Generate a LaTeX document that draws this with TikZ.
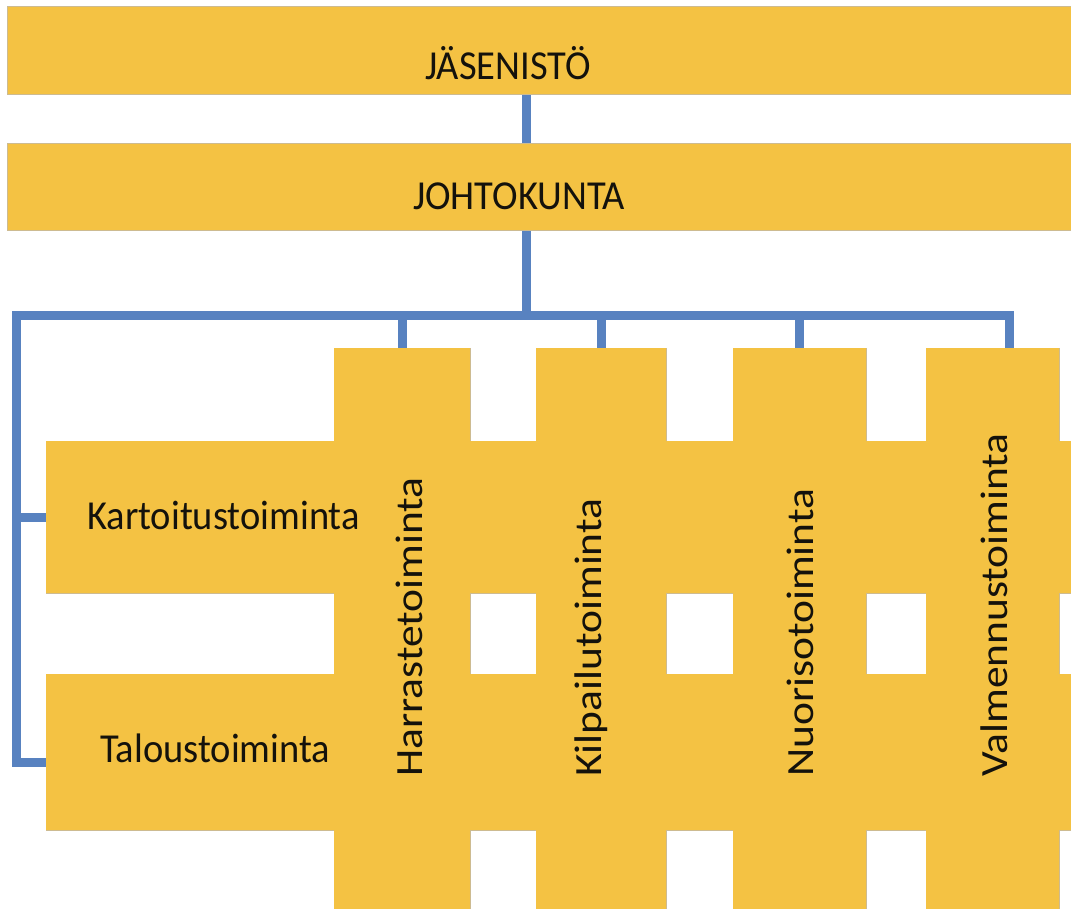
\documentclass[tikz,border=0pt]{standalone}
\usepackage{fontspec}
\setmainfont{Carlito}
\usepackage{graphicx}
\definecolor{yel}{RGB}{244,194,67}
\definecolor{yedge}{RGB}{205,187,145}
\definecolor{connc}{RGB}{88,130,192}
\definecolor{txt}{RGB}{20,18,12}
\begin{document}
\begin{tikzpicture}[x=1pt,y=-1pt,
  blk/.style={draw=yedge, line width=1pt, fill=yel, rectangle, inner sep=0pt, outer sep=0pt, anchor=north west},
  link/.style={draw=connc, line width=9pt, line cap=rect},
  lab/.style={inner sep=0pt, anchor=base west, text=txt, font=\fontsize{38.5}{40}\selectfont},
  vlab/.style={lab, rotate=90}]
\useasboundingbox (0,0) rectangle (1071,909);
\fill[white] (0,0) rectangle (1071,909);
% top boxes
\node[blk, minimum width=1080pt, minimum height=88pt] (jas) at (7,7) {};
\node[blk, minimum width=1080pt, minimum height=87pt] (joh) at (7,144) {};
% horizontal bands
\node[blk, minimum width=1040pt, minimum height=152pt] (kart) at (46,441) {};
\node[blk, minimum width=1040pt, minimum height=156pt] (tal) at (46,674) {};
% columns
\node[blk, minimum width=136pt, minimum height=580pt] (harr) at (334,348) {};
\node[blk, minimum width=130pt, minimum height=580pt] (kil) at (536,348) {};
\node[blk, minimum width=133pt, minimum height=580pt] (nuo) at (733,348) {};
\node[blk, minimum width=133pt, minimum height=580pt] (val) at (926,348) {};
% connector coordinates
\coordinate (bus) at (526,316);
\coordinate (lbus) at (16,316);
\coordinate (vtap) at (1009,316);
\coordinate (ktap) at (16,517);
\coordinate (ttap) at (16,762);
% connectors (drawn under the boxes)
\draw[link] (jas.south -| bus) -- (joh.north -| bus);
\draw[link] (joh.south -| bus) -- (bus);
\draw[link] (ttap) -- (lbus) -- (vtap) -- (val.north -| vtap);
\draw[link] (harr.north) -- (harr.north |- bus);
\draw[link] (kil.north) -- (kil.north |- bus);
\draw[link] (nuo.north) -- (nuo.north |- bus);
\draw[link] (ktap) -- (kart.west |- ktap);
\draw[link] (ttap) -- (tal.west |- ttap);
% redraw boxes over connector ends
\foreach \n in {jas,joh,kart,tal,harr,kil,nuo,val}
  \filldraw[draw=yedge, line width=1pt, fill=yel] (\n.north west) rectangle (\n.south east);
\foreach \n in {kart,tal,harr,kil,nuo,val}
  \fill[yel] (\n.north west) rectangle (\n.south east);
% labels
\node[lab] (tjas) at (425,80) {\scalebox{1}[1.07]{JÄSENISTÖ}};
\node[lab] (tjoh) at (413,210) {\scalebox{1}[1.07]{JOHTOKUNTA}};
\node[lab] (tkart) at (87,529) {\scalebox{1}[1.07]{Kartoitustoiminta}};
\node[lab] (ttal) at (100,762) {\scalebox{1}[1.07]{Taloustoiminta}};
\node[vlab] (tharr) at (422,777) {\scalebox{1.13}[1]{Harrastetoiminta}};
\node[vlab] (tkil) at (601,777) {\scalebox{1.13}[1]{Kilpailutoiminta}};
\node[vlab] (tnuo) at (813,777) {\scalebox{1.13}[1]{Nuorisotoiminta}};
\node[vlab] (tval) at (1007,777) {\scalebox{1.13}[1]{Valmennustoiminta}};
\end{tikzpicture}
\end{document}
